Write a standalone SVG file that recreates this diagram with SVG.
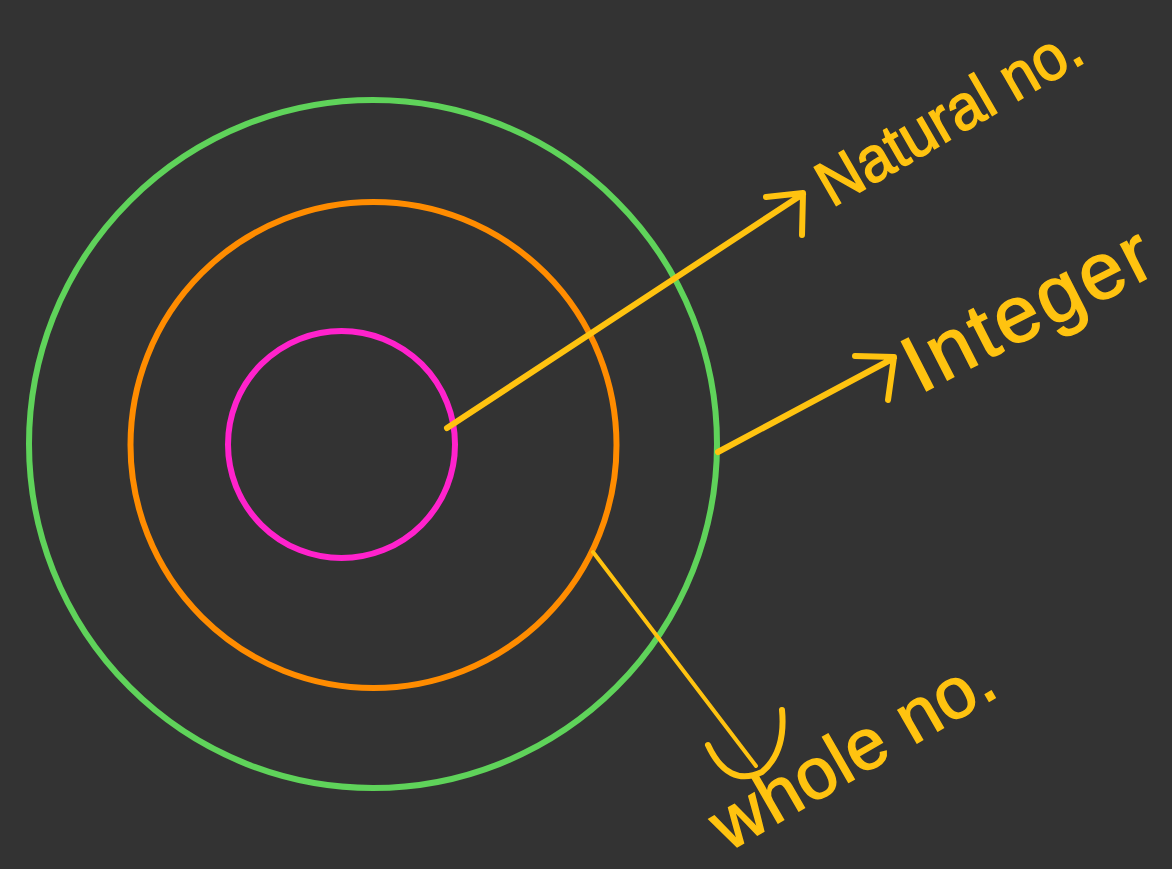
<svg xmlns="http://www.w3.org/2000/svg" width="1172" height="869" viewBox="0 0 1172 869">
<style>
.ring{fill:none;stroke-width:6}
.conn{fill:none;stroke:#ffc310;stroke-linecap:round;stroke-linejoin:round}
.lbl{fill:#ffc310;font-family:"Liberation Sans",Arial,sans-serif;stroke:#ffc310;stroke-width:1.5}
</style>
<rect width="1172" height="869" fill="#333333"/>
<g id="integer-circle"><circle class="ring" cx="373" cy="444" r="344" stroke="#5fd35a"/></g>
<g id="whole-circle"><circle class="ring" cx="373.5" cy="445" r="243" stroke="#ff8c00"/></g>
<g id="natural-circle"><circle class="ring" cx="341.5" cy="444.5" r="113.5" stroke="#ff22cc"/></g>
<g id="connectors">
<path class="conn" stroke-width="6" d="M447,428 L803,194 M766,197 L803,193 L802,235"/>
<path class="conn" stroke-width="6" d="M718,452 L894,358 M855,356 L894,357 L888,400"/>
<path class="conn" stroke-width="4" d="M593,552 L756,766"/>
<path class="conn" stroke-width="6" d="M708,745 Q728,788 762,772 Q786,752 782,710"/>
</g>
<g id="label-natural"><text class="lbl" x="832" y="208" font-size="64" textLength="295" lengthAdjust="spacingAndGlyphs" transform="rotate(-30 832 208)">Natural no.</text></g>
<g id="label-integer"><text class="lbl" x="920" y="394" font-size="80" textLength="268" lengthAdjust="spacing" transform="rotate(-27 920 394)">Integer</text></g>
<g id="label-whole"><text class="lbl" x="728" y="852" font-size="72" textLength="315" lengthAdjust="spacing" transform="rotate(-30 728 852)">whole no.</text></g>
</svg>
